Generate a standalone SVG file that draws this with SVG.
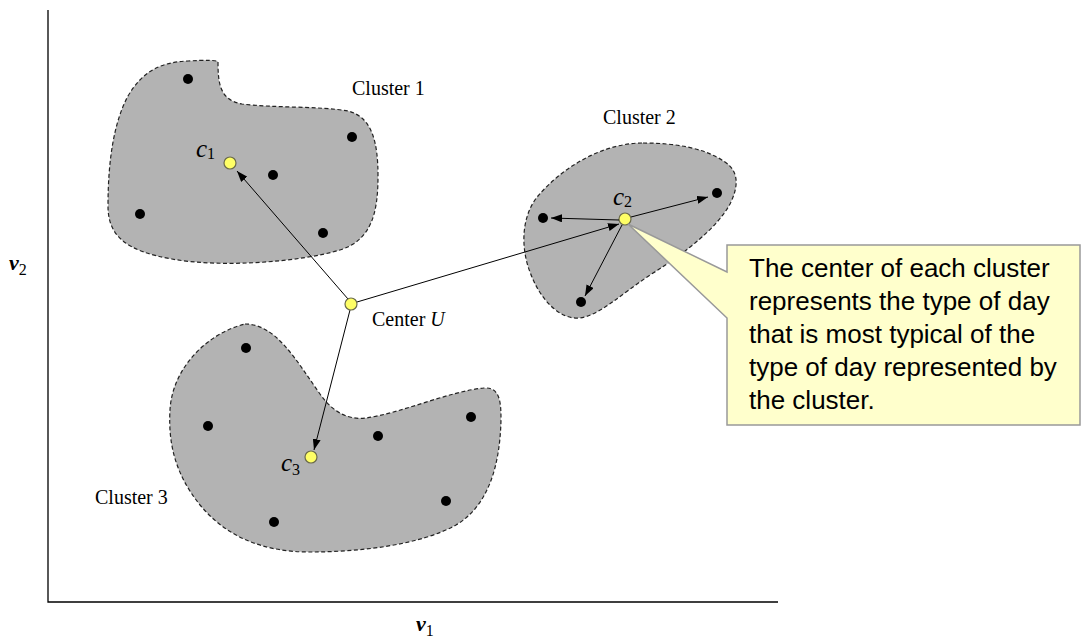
<svg xmlns="http://www.w3.org/2000/svg" width="1081" height="639" viewBox="0 0 1081 639">
<defs>
<style>
.blob{fill:#b3b3b3;stroke:#222;stroke-width:1.2;stroke-dasharray:4 2.5}
.dot{fill:#000}
.ctr{fill:#ffff66;stroke:#6b6b4a;stroke-width:1.2}
.serif{font-family:"Liberation Serif","Times New Roman",serif;fill:#000}
.lbl{font-size:20px}
.cv{font-size:25px;font-style:italic}
.sub{font-size:16px;font-style:normal}
.ax{stroke:#000;stroke-width:1.3;fill:none}
.con{stroke:#000;stroke-width:1;fill:none;marker-end:url(#ah)}
.note{font-family:"Liberation Sans",Arial,sans-serif;font-size:26px;fill:#000}
</style>
<marker id="ah" markerUnits="userSpaceOnUse" markerWidth="11" markerHeight="8" refX="11" refY="4" orient="auto">
<path d="M0,0 L11,4 L0,8 Z" fill="#000"/>
</marker>
</defs>
<rect width="1081" height="639" fill="#fff"/>
<g id="axes">
<path class="ax" d="M48,10 V602 H778"/>
<text class="serif" x="416" y="631" font-size="22" font-weight="bold" font-style="italic">v<tspan class="sub" dy="5" font-weight="normal">1</tspan></text>
<text class="serif" x="9" y="270" font-size="22" font-weight="bold" font-style="italic">v<tspan class="sub" dy="5" font-weight="normal">2</tspan></text>
</g>
<g id="cluster1">
<path class="blob" d="M218,62 C218,84 220,100 242,104 C272,108 320,106 348,111 C372,117 378,142 378,176 C378,212 372,240 340,250 C300,262 222,268 172,259 C126,251 108,236 108,206 C108,160 114,122 128,96 C142,72 160,62 188,61 C204,60 218,60 218,62 Z"/>
<circle class="dot" cx="188" cy="79" r="5"/>
<circle class="dot" cx="352" cy="137" r="5"/>
<circle class="dot" cx="273" cy="175" r="5"/>
<circle class="dot" cx="140" cy="214" r="5"/>
<circle class="dot" cx="323" cy="233" r="5"/>
<circle class="ctr" cx="230" cy="163" r="6"/>
<text class="serif cv" x="196" y="157">c<tspan class="sub" dy="2">1</tspan></text>
<text class="serif lbl" x="352" y="95">Cluster 1</text>
</g>
<g id="cluster2">
<path class="blob" d="M643,143 C675,143 705,148 725,162 C740,172 738,188 730,204 C718,226 690,250 650,275 C620,295 600,315 580,318 C560,320 540,300 530,272 C520,246 522,215 538,196 C560,170 600,143 643,143 Z"/>
<circle class="dot" cx="543" cy="218" r="5"/>
<circle class="dot" cx="717" cy="193" r="5"/>
<circle class="dot" cx="581" cy="302" r="5"/>
<circle class="ctr" cx="625" cy="219" r="6"/>
<text class="serif cv" x="613" y="205">c<tspan class="sub" dy="2">2</tspan></text>
<text class="serif lbl" x="603" y="124">Cluster 2</text>
</g>
<g id="cluster3">
<path class="blob" d="M245,324 C276,324 296,360 320,394 C334,414 350,420 366,418 C402,413 450,391 484,388 C500,387 501,402 501,420 C500,462 490,505 456,525 C420,545 360,552 310,552 C260,552 225,535 200,505 C176,475 168,445 170,410 C172,370 205,334 245,324 Z"/>
<circle class="dot" cx="246" cy="348" r="5"/>
<circle class="dot" cx="208" cy="426" r="5"/>
<circle class="dot" cx="378" cy="436" r="5"/>
<circle class="dot" cx="471" cy="417" r="5"/>
<circle class="dot" cx="446" cy="501" r="5"/>
<circle class="dot" cx="274" cy="522" r="5"/>
<circle class="ctr" cx="311" cy="457" r="6"/>
<text class="serif cv" x="281" y="471">c<tspan class="sub" dy="4">3</tspan></text>
<text class="serif lbl" x="95" y="504">Cluster 3</text>
</g>
<g id="connectors">
<line class="con" x1="348" y1="299" x2="237" y2="171"/>
<line class="con" x1="357" y1="302" x2="619" y2="224"/>
<line class="con" x1="350" y1="310" x2="314" y2="450"/>
<line class="con" x1="619" y1="220" x2="551" y2="218"/>
<line class="con" x1="631" y1="217" x2="708" y2="197"/>
<line class="con" x1="622" y1="225" x2="585" y2="296"/>
</g>
<g id="centerU">
<circle class="ctr" cx="351" cy="304" r="6"/>
<text class="serif lbl" x="372" y="326">Center <tspan font-style="italic">U</tspan></text>
</g>
<g id="callout">
<path d="M727,245 H1080 V425 H727 V318 L628,224 L727,272 Z" fill="#ffffcc" stroke="#999" stroke-width="1.5"/>
<text class="note" x="749" y="277">The center of each cluster</text>
<text class="note" x="749" y="310">represents the type of day</text>
<text class="note" x="749" y="343">that is most typical of the</text>
<text class="note" x="749" y="376">type of day represented by</text>
<text class="note" x="749" y="409">the cluster.</text>
</g>
</svg>
